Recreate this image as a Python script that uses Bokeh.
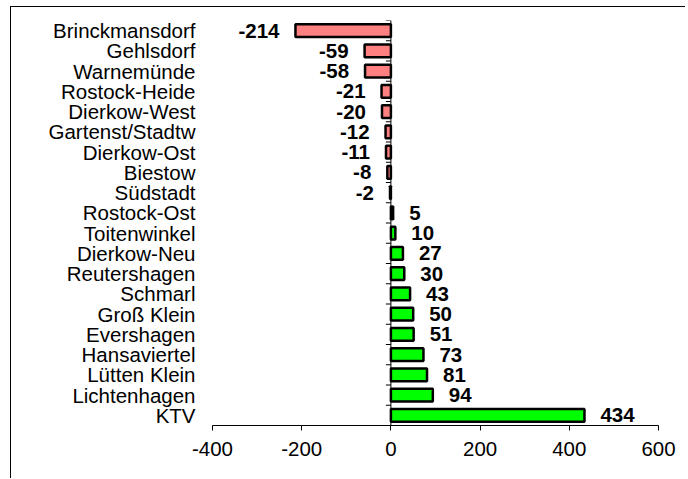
import math
from bokeh.plotting import figure
from bokeh.models import (Range1d, FixedTicker, PrintfTickFormatter,
                          ColumnDataSource, Span)
from bokeh.core.properties import value
from bokeh.embed import file_html
from bokeh.resources import INLINE

# ---------------- data ----------------
districts = ["Brinckmansdorf", "Gehlsdorf", "Warnemünde", "Rostock-Heide",
             "Dierkow-West", "Gartenst/Stadtw", "Dierkow-Ost", "Biestow",
             "Südstadt", "Rostock-Ost", "Toitenwinkel", "Dierkow-Neu",
             "Reutershagen", "Schmarl", "Groß Klein", "Evershagen",
             "Hansaviertel", "Lütten Klein", "Lichtenhagen", "KTV"]
saldo = [-214, -59, -58, -21, -20, -12, -11, -8, -2, 5,
         10, 27, 30, 43, 50, 51, 73, 81, 94, 434]
x_ticks = [-400, -200, 0, 200, 400, 600]

# ---------------- styling ----------------
FONT = "Liberation Sans"
OFF_X, OFF_Y = 11, 7          # canvas offset; chart-area frame drawn 1px outside
W, H = 688 - OFF_X, 479 - OFF_Y
NEG_COLOR = "#FF8080"
POS_COLOR = "#00FF00"

n = len(districts)
rows = [n - i - 0.5 for i in range(n)]          # first district at the top
bounds = list(range(n + 1))                     # category boundaries

src = ColumnDataSource(dict(
    row=rows,
    saldo=saldo,
    label=[str(v) for v in saldo],
    color=[NEG_COLOR if v < 0 else POS_COLOR for v in saldo],
    align=["right" if v < 0 else "left" for v in saldo],
    xoff=[-16 if v < 0 else 16 for v in saldo],
))

p = figure(width=W, height=H, output_backend="svg", toolbar_location=None,
           x_range=Range1d(x_ticks[0], x_ticks[-1]),
           y_range=Range1d(0, n),
           min_border_left=212 - OFF_X,
           min_border_right=W - (658 - OFF_X),
           min_border_top=20 - OFF_Y,
           min_border_bottom=H - (425 - OFF_Y),
           background_fill_color="white", border_fill_color="white",
           styles={"margin-left": f"{OFF_X}px",
                   "margin-top": f"{OFF_Y}px",
                   "box-shadow": "-1px -1px 0 0 black",
                   "clip-path": "inset(-1px 3px 0px -1px)"})
p.outline_line_color = None
p.grid.visible = False

p.hbar(y="row", left=0, right="saldo", height=0.62, source=src,
       fill_color="color", line_color="black", line_width=2.5)

p.text(x="saldo", y="row", text="label", source=src,
       x_offset="xoff", text_align="align", text_baseline="middle",
       text_font=value(FONT), text_font_style="bold",
       text_font_size="20.5px", text_color="black")

# category axis (labels only)
ya = p.yaxis[0]
ya.ticker = FixedTicker(ticks=rows)
ya.major_label_overrides = {r: d for r, d in zip(rows, districts)}
ya.axis_line_color = None
ya.major_tick_line_color = None
ya.minor_tick_line_color = None
ya.major_tick_out = 0
ya.major_tick_in = 0
ya.major_label_standoff = 17
ya.major_label_text_font = FONT
ya.major_label_text_font_size = "20.5px"
ya.major_label_text_color = "black"

# x axis
xa = p.xaxis[0]
xa.ticker = FixedTicker(ticks=x_ticks)
xa.formatter = PrintfTickFormatter(format="%d")
xa.axis_line_color = "black"
xa.axis_line_width = 1
xa.major_tick_line_color = "black"
xa.major_tick_out = 5
xa.major_tick_in = 0
xa.minor_tick_line_color = None
xa.major_label_standoff = 11
xa.major_label_text_font = FONT
xa.major_label_text_font_size = "20.5px"
xa.major_label_text_color = "black"

# vertical axis line at zero with ticks between the categories
p.add_layout(Span(location=0, dimension="height",
                  line_color="black", line_width=1))
p.ray(x=0, y=bounds, length=5, length_units="screen", angle=math.pi,
      line_color="black", line_width=1)

open("out.html", "w").write(file_html(p, INLINE))
